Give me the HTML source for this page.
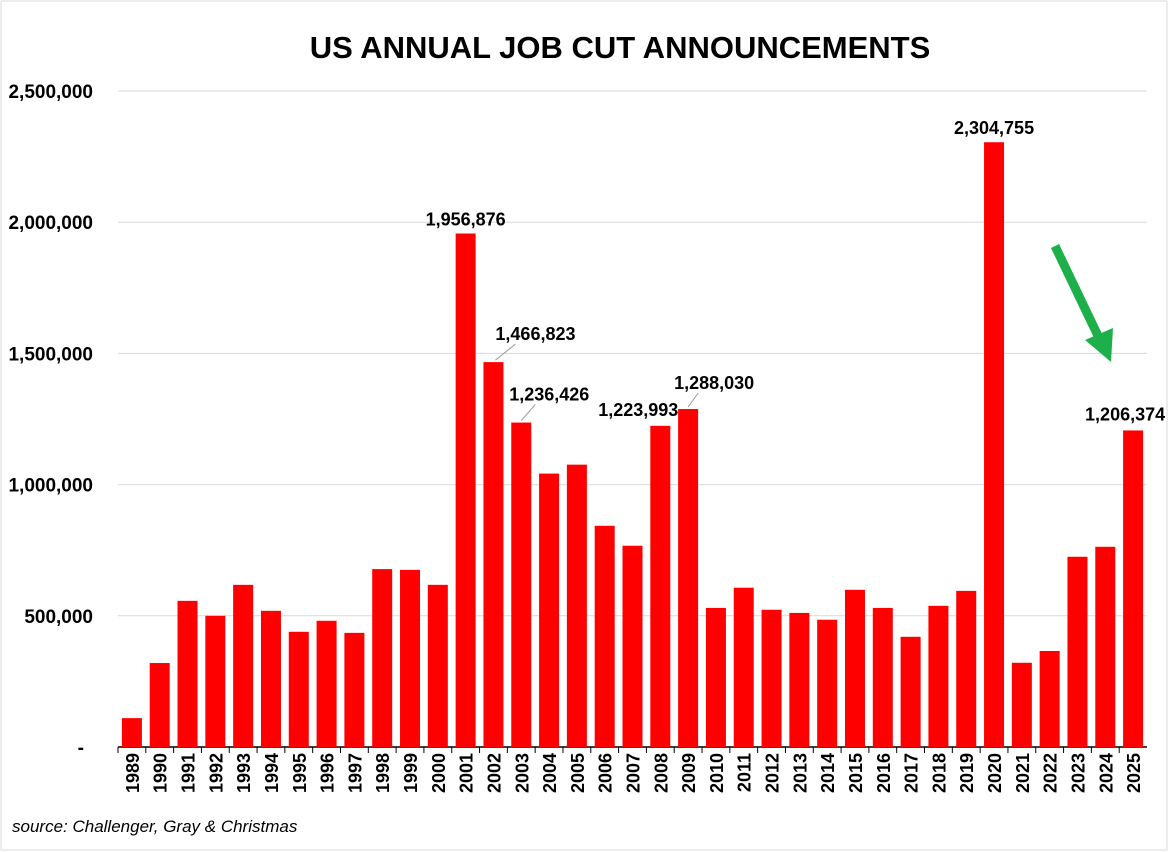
<!DOCTYPE html>
<html><head><meta charset="utf-8"><style>
body{margin:0;background:#fff;font-family:"Liberation Sans",sans-serif}
#wrap{position:relative;width:1169px;height:852px;overflow:hidden}
</style></head><body>
<div id="wrap">
<svg id="chart" width="1169" height="852">
<rect x="1" y="1" width="1166" height="849" fill="#fff" stroke="#d9d9d9"/>
<text x="620" y="58" text-anchor="middle" font-size="31" font-weight="bold" fill="#000">US ANNUAL JOB CUT ANNOUNCEMENTS</text>
<text x="12" y="832" font-size="17" font-style="italic" fill="#000">source: Challenger, Gray &amp; Christmas</text>
<g id="grid"></g><g id="bars"></g><g id="labels"></g>
<g>
<line x1="1055" y1="246" x2="1100" y2="340" stroke="#1db04a" stroke-width="9"/>
<polygon points="1085,340 1113,328 1111,362" fill="#1db04a"/>
</g>
</svg>
</div>
<script>
const years=[];for(let y=1989;y<=2025;y++)years.push(String(y));
const values=[110000,320000,557000,500000,618000,519000,439000,481000,435000,678000,675000,618000,1956876,1466823,1236426,1042000,1076000,843000,767000,1223993,1288030,530000,607000,523000,511000,485000,599000,530000,420000,538000,595000,2304755,321000,366000,725000,763000,1206374];
const yTicks=[0,500000,1000000,1500000,2000000,2500000];
const yTickLabels=["-","500,000","1,000,000","1,500,000","2,000,000","2,500,000"];
const labeled={"2001":"1,956,876","2002":"1,466,823","2003":"1,236,426","2008":"1,223,993","2009":"1,288,030","2020":"2,304,755","2025":"1,206,374"};
const NS="http://www.w3.org/2000/svg";
const x0=118,x1=1147,yBase=747,yTop=91,maxV=2500000;
const step=(x1-x0)/years.length;
const xS=i=>x0+step*(i+0.5);
const yS=v=>yBase-(v/maxV)*(yBase-yTop);
function mk(tag,attrs,parent,txt){const e=document.createElementNS(NS,tag);for(const k in attrs)e.setAttribute(k,attrs[k]);if(txt!==undefined)e.textContent=txt;parent.appendChild(e);return e;}
const grid=document.getElementById('grid'),bars=document.getElementById('bars'),labels=document.getElementById('labels');
yTicks.forEach((t,i)=>{
  if(t>0){const g=mk('line',{x1:x0,x2:x1,y1:yS(t),y2:yS(t),stroke:'#d9d9d9','stroke-width':1},grid);
  
  }
  const tl=mk('text',{x:t===0?84:93,y:yS(t)+7,'text-anchor':'end','font-size':19,'font-weight':'bold'},grid,yTickLabels[i]);
  
  
});
const ax=mk('line',{x1:x0,x2:x1,y1:yBase,y2:yBase,stroke:'#000','stroke-width':1.5},grid);


const bw=20;
years.forEach((yr,i)=>{
  const cx=xS(i);
  const r=mk('rect',{x:cx-bw/2,y:yS(values[i]),width:bw,height:yBase-yS(values[i]),fill:'#ff0000'},bars);
  
  
  const tk=mk('line',{x1:x0+step*i,x2:x0+step*i,y1:yBase,y2:yBase+6,stroke:'#000'},grid);
  
  
  const t=mk('text',{transform:`translate(${cx+7},${yBase+6}) rotate(-90)`,'text-anchor':'end','font-size':18,'font-weight':'bold'},labels,yr);
  
  
  if(labeled[yr]){
    let lx=cx,ly=yS(values[i])-8;
    let anchor='middle';
    if(yr==='2002'){lx=cx+42;ly=yS(values[i])-22;mk('line',{x1:cx+2,y1:yS(values[i])-2,x2:cx+22,y2:ly+4,stroke:'#999'},labels);}
    if(yr==='2003'){lx=cx+28;ly=yS(values[i])-22;mk('line',{x1:cx,y1:yS(values[i])-2,x2:cx+14,y2:ly+4,stroke:'#999'},labels);}
    if(yr==='2008'){lx=cx+18;ly=yS(values[i])-10;anchor='end';}
    if(yr==='2009'){lx=cx+26;ly=yS(values[i])-20;mk('line',{x1:cx,y1:yS(values[i])-2,x2:cx+10,y2:ly+4,stroke:'#999'},labels);}
    if(yr==='2025'){lx=cx-8;ly=yS(values[i])-10;}
    const l=mk('text',{x:lx,y:ly,'text-anchor':anchor,'font-size':18,'font-weight':'bold'},labels,labeled[yr]);
    
    
  }
});
</script>
</body></html>
